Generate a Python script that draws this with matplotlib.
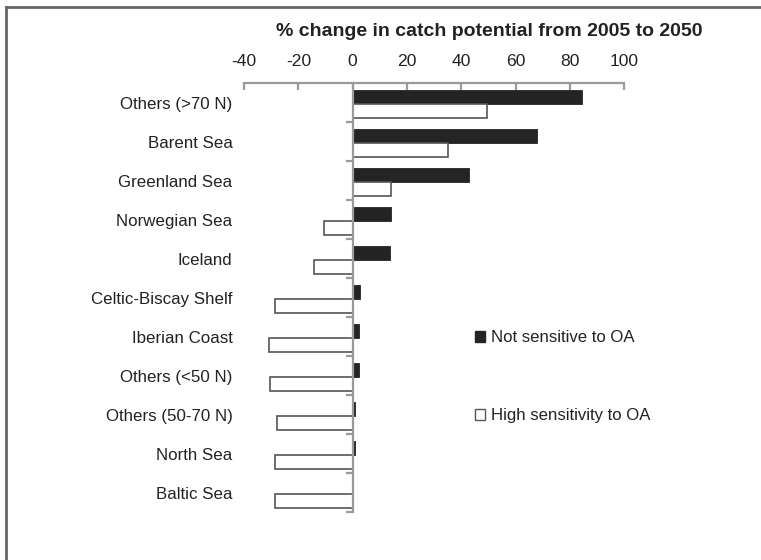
import numpy as np
import matplotlib
matplotlib.use("Agg")
import matplotlib.pyplot as plt
from matplotlib.lines import Line2D
from matplotlib.patches import Patch

plt.rcParams['font.family'] = ['Liberation Sans', 'DejaVu Sans']

regions = ["Others (>70 N)", "Barent Sea", "Greenland Sea", "Norwegian Sea",
           "Iceland", "Celtic-Biscay Shelf", "Iberian Coast", "Others (<50 N)",
           "Others (50-70 N)", "North Sea", "Baltic Sea"]
not_sensitive = [84.5, 67.9, 42.9, 14.2, 13.9, 2.7, 2.2, 2.2, 0.8, 0.8, -0.4]
high_sensitivity = [49.3, 35.2, 14.1, -10.5, -14.4, -28.5, -30.7, -30.3, -28.0, -28.5, -28.5]
xticks = [-40, -20, 0, 20, 40, 60, 80, 100]

text_col = "#222222"
axis_col = "#9a9a9a"

fig = plt.figure(figsize=(7.61, 5.6), dpi=100)
ax = fig.add_axes([244 / 761, 1 - 512 / 560, 380.3 / 761, 429 / 560])

y = np.arange(len(regions))
ax.barh(y + 0.355, not_sensitive, height=0.37, color="#242424", edgecolor="#242424", linewidth=0.6)
ax.barh(y + 0.715, high_sensitivity, height=0.35, color="white", edgecolor="#555555", linewidth=1.2)

ax.set_xlim(-40, 100)
ax.set_ylim(len(regions), 0)

# axis styling
for s in ["right", "bottom"]:
    ax.spines[s].set_visible(False)
ax.spines["left"].set_position(("data", 0))
ax.spines["left"].set_color(axis_col)
ax.spines["left"].set_linewidth(1.6)
ax.spines["top"].set_color(axis_col)
ax.spines["top"].set_linewidth(1.6)

ax.xaxis.tick_top()
ax.set_xticks(xticks)
ax.set_xticklabels([str(v) for v in xticks])
ax.tick_params(axis="x", direction="in", length=5, width=1.6, color=axis_col,
               labelsize=12.6, labelcolor=text_col, pad=10)
ax.set_yticks(np.arange(1, len(regions) + 1))
ax.set_yticklabels([])
ax.tick_params(axis="y", direction="out", length=5, width=1.6, color=axis_col)

for i, name in enumerate(regions):
    ax.text(-0.03, i + 0.56, name, transform=ax.get_yaxis_transform(),
            ha="right", va="center", fontsize=12.2, color=text_col)

fig.text(489 / 761, 1 - 32 / 560, "% change in catch potential from 2005 to 2050",
         ha="center", va="center", fontsize=14, fontweight="bold", color=text_col)

handles = [Patch(facecolor="#242424", edgecolor="#242424", label="Not sensitive to OA"),
           Patch(facecolor="white", edgecolor="#555555", label="High sensitivity to OA")]
fig.legend(handles=handles, loc="upper left", bbox_to_anchor=(467 / 761, 1 - 322 / 560),
           frameon=False, fontsize=12.1, labelspacing=3.75, handlelength=0.6,
           handleheight=0.6, handletextpad=0.3, borderpad=0, labelcolor=text_col)

# page frame
fig.add_artist(Line2D([6 / 761, 1], [1 - 7 / 560, 1 - 7 / 560], transform=fig.transFigure,
                      color="#666666", linewidth=2))
fig.add_artist(Line2D([6 / 761, 6 / 761], [0, 1 - 7 / 560], transform=fig.transFigure,
                      color="#666666", linewidth=2))

fig.savefig("out.png", dpi=100)
